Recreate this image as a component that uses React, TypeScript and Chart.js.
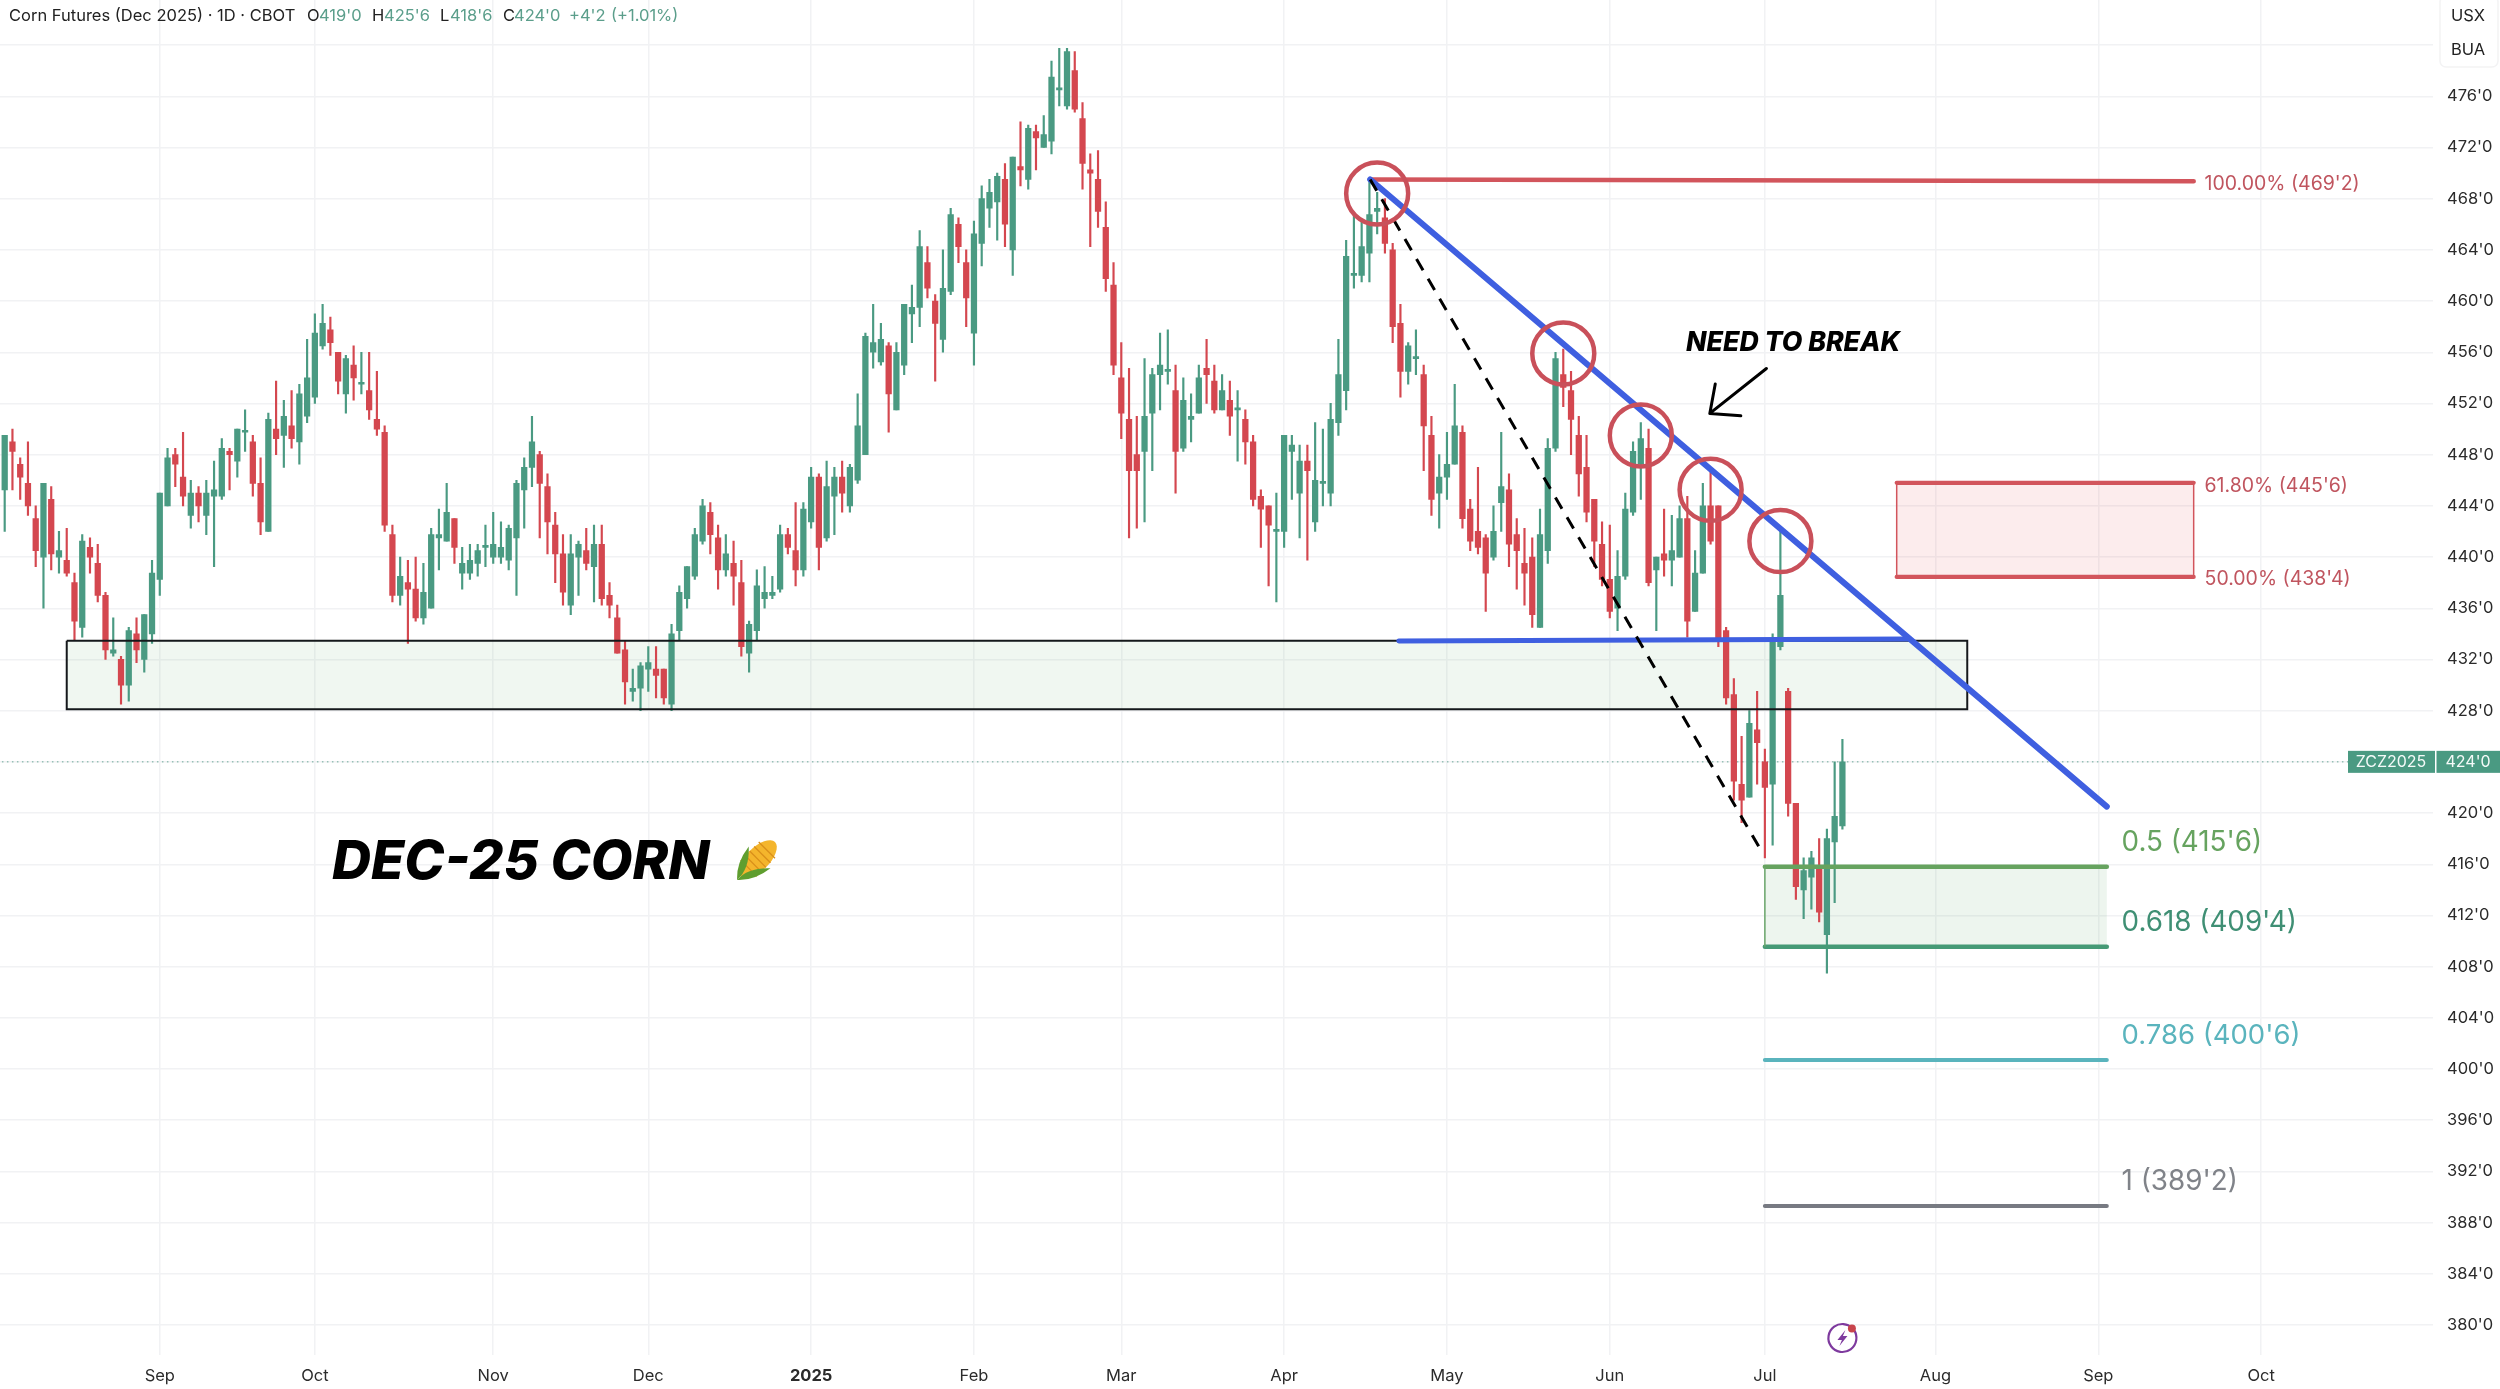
import React, { useEffect, useRef } from "react";
import { Chart, registerables } from "chart.js";

Chart.register(...registerables);

// Daily OHLC, Dec-25 corn, one entry per session, in cents (eighths shown as 0.25 steps)
const opens = [
  445.25,449,447.25,445.75,443,440,444.5,440,439.75,438,434.5,440.75,439.5,437,432.5,432,430,434,432,434,
  438.25,444,448,446.25,443.25,445,443.25,444.75,444.75,448.25,447.5,449.75,449,445.75,442,450,449.5,450.25,449,451,
  452.5,456.5,457.75,456,452.75,455,453.5,453,450.75,449.75,441.75,437,438,437.5,435.25,436,441.5,441.25,443,438.75,
  438.75,439.5,440.75,440,440,439.75,441.5,445.25,447,448,445.5,442.5,440.25,436.25,440,440.5,439.25,441,437,435.25,
  432.75,429.5,429.75,431.25,431.25,431.25,428.5,434.25,436.75,438.5,441.25,443.5,441.5,439,439.5,438,432.5,434.25,436.75,437,
  437.5,441.75,440.5,439,442.75,446.25,441.5,444.75,446.25,444,446,448,456,455.25,456.5,451.5,455,459,459.5,463,
  460,457,460.75,466,463,457.5,464.5,467.25,467.75,469.5,464,470.5,469.5,473.25,472,472.5,476.5,475.25,478,474.25,
  470.25,469.5,465.75,461.25,454,450.75,448,448.25,451.25,454.25,454.5,453,448.5,450.75,451.25,454.75,453.75,451.5,452.25,451.5,
  450.75,449,444.75,444,442,442,448.25,445,447.5,442.75,445.75,445,450.5,453,462,462,463.75,467,466.5,464,
  458.25,454.5,455.5,454.25,449.5,445,446.25,447.25,449.75,443.75,442,441.5,440,444.25,445.25,441.75,439.5,440,434.5,440.5,
  448.5,454.25,453,449.5,447,444.5,441,438.25,436,438.5,443.5,447.25,448.5,439,440.25,439.75,440,443,435.75,438.75,
  444,444,434.25,429.25,422.25,421.25,426.5,424,422.25,433,429.5,420.75,414,415,415.75,410.5,417.75,419,
];
const closes = [
  449.5,448.25,446.25,444,440.5,445.75,440.25,440.5,438.75,435,441.25,440,437,432.75,432.75,430,434.25,432.75,435.5,438.75,
  445,447.75,447.25,444.75,445,444,445,445.25,448.5,448,450,449.75,445.75,442.75,450.75,449.25,451,449.25,452.75,454,
  457.5,458.25,456.75,453.75,455.5,454,453.5,451.5,450,442.5,437,438.5,437.5,435.25,437.25,441.75,441.75,443.5,440.75,439.5,
  439.75,440.5,440.75,441,440.75,442.25,445.75,447,449,445.75,442.75,440.25,437.25,440.25,441,439.5,441,436.75,436.25,432.5,
  430.25,429.75,431.5,431.75,430.75,429,434,437.25,439.25,441.75,444,441.75,439,440.25,438.5,433,434.75,437.75,437.25,437.25,
  441.75,440.75,439,443.75,446.25,440.75,445.5,446.25,445,447,450.25,457.25,456.75,457,452.75,456,459.75,459.5,464.25,461,
  458.25,461,466.75,464.25,460.25,465.25,468,468.5,469.75,466,471.25,470.25,473.5,472.75,473,477.5,476.5,479.5,475,470.75,
  470,467,461.75,455,451.25,446.75,446.75,451,454.25,455,454.5,448.25,452.25,451,454,454.25,451.5,453,451,451.5,
  449,444.5,443.75,442.5,442,449.5,448.75,447.5,446.75,446,445.75,450.75,454.25,463.5,462,464.25,466.75,467.25,464.5,458,
  454.5,456.5,455.5,450.25,444.5,446.25,447.25,450.25,443,441.25,440.75,438.75,442,445.5,441,440.5,438.75,435.5,441.75,448.5,
  455.5,453.25,450.75,446.5,443.5,441.25,438.25,435.75,438.5,443.75,448.25,449.25,438,440,439.75,440.5,443,435,438.75,444,
  441.25,433.5,429,422.5,421,427,425.5,422,433.5,437,420.75,414.25,415.5,416.5,412.25,418,419.75,424,
];
const highs = [
  449.5,450,447.75,449,444,445.75,445.5,442,442.25,438.75,441.75,441.5,441,437.25,435.25,432.25,434.5,435.25,435.5,439.75,
  445,448.5,448.5,449.75,446,445.5,446,447.5,449.25,448.5,450,451.5,449.5,447.75,451.25,453.75,452.25,453,453.5,457,
  459,459.75,458.75,456,455.75,456.5,456,456,454.5,450.25,442.5,440,439.75,440,439.5,442.25,443.75,445.75,443,440.75,
  441,441,442.5,443.5,442.75,442.5,446,447.75,451,448.25,446.5,443.5,441.75,441.75,441.25,442.25,442.5,442.5,438,436.25,
  433.5,431.25,431.75,433,433,431.25,434.75,437.75,439.25,442.25,444.5,444.25,442.5,441.75,441.25,439.75,435,439,439.25,438.5,
  442.5,442.25,444.25,444.25,447,446.5,447.5,447,447.5,447.25,452.75,457.5,459.75,458.25,456.75,456.75,459.75,461.25,465.5,464.25,
  460.5,464,467.25,466.5,464,466.25,469,469.5,470,470.75,471.25,474,473.75,473.75,474.5,478.75,479.75,479.75,479.5,475.5,
  471.5,471.75,467.75,463,456.75,454.75,451,455.5,454.75,457.5,457.75,455,454,452.75,455,457,455,454.25,453.75,453,
  451.5,449.5,445.25,444,445,449.5,449.5,448.75,448.75,450.5,450,452,457,464.75,466.75,466.25,469.5,468.5,468,464.5,
  459.75,456.75,457.75,455,451,448,449.75,453.5,450.25,444.5,447,441.75,444,449.75,446.5,443,442.25,441.5,443.75,449.25,
  456,456.25,454.5,451,449.5,444.5,442.75,442.5,440.5,445,449,450.5,450,440,443.75,443.25,444,444.75,440.5,445.75,
  446.75,444,434.5,430.5,426,428,429.5,425,434,442,429.75,420.75,416.5,417,418,418.75,424,425.75,
];
const lows = [
  442,445.25,444.5,443.25,439.25,436,439,438.75,438.5,433.5,433.75,438.75,436.5,432,432.25,428.5,428.75,431.75,431,433.25,
  437,444,445.5,444,442.25,442.75,441.75,439.25,444.5,445.25,446.25,448.25,444.75,441.75,442,448,447,448.5,447.25,450.5,
  452,456.25,455.75,452.75,451.25,452.25,452.75,450.75,449.5,442,436.5,436.25,433.25,435,434.75,436,439,441.25,439.5,437.5,
  438.25,438.5,439.25,439.5,439.5,439,437,442.25,445.5,441.5,440.25,438,436.25,435.5,437,439,436.5,436.25,435.25,432.5,
  428.5,428.75,428,429.5,429,428.5,428,433.5,436,438.25,441,440.25,437.5,438.5,436.25,432.25,431,433.5,436,436.75,
  437.25,440.25,437.75,438.5,442.25,439,441.25,441.75,443.5,443.5,445.75,448,454.75,455,449.75,451.5,454.25,456.75,458,460.25,
  453.75,456,460.5,463,458,455,462.75,465.75,464.75,464.25,462,469,468.75,470.25,472,471.5,475.25,475,474.75,468.75,
  464.25,465.75,460.75,454.25,449.25,441.5,442.25,442.75,446.75,451.5,453.5,445,448.25,449,451.25,452,451.25,451.5,449.5,447.5,
  447.25,444,440.75,437.75,436.5,440.75,444.5,441.5,439.75,442,444,444,449.5,451.5,461,461.5,461.5,465.25,463.75,456.75,
  452.5,453.5,454.25,446.75,443.25,442.25,444.5,447.25,442.25,440.5,440.25,435.75,439.75,442,439.25,437.5,436.25,434.5,434.5,439.5,
  448.25,451.75,448,444.75,442.75,439.25,437.75,435.25,434.25,438.25,443.25,444.5,437.75,434.25,438.5,437.75,440,433.75,435.75,438.75,
  441,433,428.5,421,419.25,421.25,422.25,416.5,417.5,432.75,419.75,413.25,411.75,412.5,411.5,407.5,413,418.75,
];

const monthTickIndex = [20, 40, 63, 83, 104, 125, 144, 165, 186, 207, 227, 249, 270, 291];
const monthLabels = ["Sep", "Oct", "Nov", "Dec", "2025", "Feb", "Mar", "Apr", "May", "Jun", "Jul", "Aug", "Sep", "Oct"];
const priceTicks = [380,384,388,392,396,400,404,408,412,416,420,424,428,432,436,440,444,448,452,456,460,464,468,472,476,480];

const lastClose = 424;

const trendLine = [[176.1, 469.5], [271.1, 420.5]];
const supportLine = [[179.8, 433.45], [245.4, 433.6]];
const fibDiagonal = [[176.1, 469.5], [226.2, 417.4]];
const topFibLine = [[176.1, 469.5], [282.3, 469.36]];
const arrowPath = [[227.2, 454.73], [219.9, 451.22], [220.6, 453.52], [219.9, 451.22], [223.9, 451.03]];
const touchCircles = [[177, 468.4], [201, 455.9], [211, 449.5], [220, 445.25], [229, 441.25]];
const demandZone = { x0: 8, x1: 253.1, top: 433.47, bottom: 428.1 };
const resistBox = { x0: 244.0, x1: 282.3, top: 445.8, bottom: 438.45 };
const targetBox = { x0: 227, x1: 271.1, top: 415.8, bottom: 409.55 };
const fib786 = [[227, 400.7], [271.1, 400.7]];
const fib1 = [[227, 389.3], [271.1, 389.3]];

const fibLabels = [
  { text: "100.00% (469'2)", i: 283.7, price: 469.12, color: "#c0555f", size: 19.5 },
  { text: "61.80% (445'6)", i: 283.7, price: 445.52, color: "#c0555f", size: 19.5 },
  { text: "50.00% (438'4)", i: 283.7, price: 438.27, color: "#c0555f", size: 19.5 },
  { text: "0.5 (415'6)", i: 273, price: 417.72, color: "#66a35f", size: 27.8 },
  { text: "0.618 (409'4)", i: 273, price: 411.47, color: "#3f8f74", size: 27.8 },
  { text: "0.786 (400'6)", i: 273, price: 402.57, color: "#5ab4bd", size: 27.5 },
  { text: "1 (389'2)", i: 273, price: 391.22, color: "#808389", size: 27.8 },
];

const UP = "#4a9a82";
const DOWN = "#d4474f";
const FONT = "Inter, 'Open Sans', sans-serif";

const pts = (a: number[][]) => a.map(([x, y]) => ({ x, y }));
const line = (a: number[][], color: string, width: number, extra: any = {}) => ({
  type: "line",
  data: pts(a),
  borderColor: color,
  borderWidth: width,
  pointRadius: 0,
  tension: 0,
  fill: false,
  borderCapStyle: "round",
  borderJoinStyle: "round",
  order: 3,
  ...extra,
});

const overlay = {
  id: "overlay",
  beforeDatasetsDraw(chart: any) {
    const { ctx, scales } = chart;
    const { x, y } = scales;
    const rect = (b: any, fill: string) => {
      ctx.fillStyle = fill;
      ctx.fillRect(x.getPixelForValue(b.x0), y.getPixelForValue(b.top), x.getPixelForValue(b.x1) - x.getPixelForValue(b.x0), y.getPixelForValue(b.bottom) - y.getPixelForValue(b.top));
    };
    ctx.save();
    rect(demandZone, "rgba(76,160,90,0.085)");
    rect(resistBox, "rgba(225,70,75,0.1)");
    rect(targetBox, "rgba(76,160,90,0.1)");
    ctx.restore();
  },
  afterDraw(chart: any) {
    const { ctx, scales } = chart;
    const { x, y } = scales;
    ctx.save();
    ctx.textBaseline = "middle";
    ctx.textAlign = "left";

    // Thin side edges of the boxes
    const edge = (i: number, b: any, color: string) => {
      ctx.strokeStyle = color;
      ctx.lineWidth = 1.5;
      ctx.beginPath();
      ctx.moveTo(x.getPixelForValue(i), y.getPixelForValue(b.top));
      ctx.lineTo(x.getPixelForValue(i), y.getPixelForValue(b.bottom));
      ctx.stroke();
    };
    edge(resistBox.x0, resistBox, "#d2555c");
    edge(resistBox.x1, resistBox, "#d2555c");
    edge(targetBox.x0, targetBox, "#6aa56a");

    fibLabels.forEach((l) => {
      ctx.font = `${l.size}px ${FONT}`;
      ctx.fillStyle = l.color;
      ctx.fillText(l.text, x.getPixelForValue(l.i), y.getPixelForValue(l.price));
    });

    // Free-text callouts
    ctx.fillStyle = "#000";
    ctx.font = `italic 800 26.7px ${FONT}`;
    ctx.fillText("NEED TO BREAK", 1686, 343);
    ctx.font = `italic 800 54px ${FONT}`;
    ctx.fillText("DEC-25 CORN", 332, 863);

    // Corn emoji substitute
    ctx.save();
    ctx.translate(756, 861);
    ctx.rotate(Math.PI / 4);
    ctx.scale(1.28, 1.28);
    ctx.fillStyle = "#f4b52c";
    ctx.beginPath();
    ctx.ellipse(0, -2, 9, 19, 0, 0, Math.PI * 2);
    ctx.fill();
    ctx.strokeStyle = "#d98f1a";
    ctx.lineWidth = 1;
    for (let k = -12; k <= 10; k += 5) {
      ctx.beginPath();
      ctx.moveTo(-9, k);
      ctx.lineTo(9, k);
      ctx.stroke();
    }
    ctx.fillStyle = "#5f9e2f";
    ctx.beginPath();
    ctx.moveTo(-12, -4);
    ctx.quadraticCurveTo(-10, 12, 0, 21);
    ctx.quadraticCurveTo(1, 8, -12, -4);
    ctx.fill();
    ctx.beginPath();
    ctx.moveTo(12, -4);
    ctx.quadraticCurveTo(10, 12, 0, 21);
    ctx.quadraticCurveTo(-1, 8, 12, -4);
    ctx.fill();
    ctx.restore();

    // Price tag of the last close
    const py = y.getPixelForValue(lastClose);
    ctx.fillStyle = "#4a9a82";
    ctx.fillRect(2348, py - 11, 87, 22);
    ctx.fillRect(2436.5, py - 11, 63.5, 22);
    ctx.fillStyle = "#f4faf8";
    ctx.font = `16px ${FONT}`;
    ctx.textAlign = "center";
    ctx.fillText("ZCZ2025", 2391, py + 0.5);
    ctx.fillText("424'0", 2468, py + 0.5);

    // Currency / unit box
    ctx.fillStyle = "#ffffff";
    ctx.strokeStyle = "#f3f3f4";
    ctx.lineWidth = 1.5;
    ctx.beginPath();
    ctx.roundRect(2440, -4, 58, 71, 6);
    ctx.fill();
    ctx.stroke();
    ctx.fillStyle = "#222";
    ctx.font = `16.5px ${FONT}`;
    ctx.fillText("USX", 2468, 16);
    ctx.fillText("BUA", 2468, 50);

    // Header legend
    ctx.textAlign = "left";
    ctx.font = `16.5px ${FONT}`;
    const head: [string, number, string][] = [
      ["Corn Futures (Dec 2025) · 1D · CBOT", 9, "#222"],
      ["O", 307, "#222"], ["419'0", 319, "#5b9e8b"],
      ["H", 372, "#222"], ["425'6", 384, "#5b9e8b"],
      ["L", 440, "#222"], ["418'6", 450, "#5b9e8b"],
      ["C", 503, "#222"], ["424'0", 514, "#5b9e8b"],
      ["+4'2", 569, "#5b9e8b"], ["(+1.01%)", 611, "#5b9e8b"],
    ];
    head.forEach(([t, px, c]) => {
      ctx.fillStyle = c;
      ctx.fillText(t, px, 16);
    });

    // Lightning marker beneath the last bar
    const ix = x.getPixelForValue(opens.length - 1);
    const iy = 1338;
    ctx.strokeStyle = "#7e3a9e";
    ctx.lineWidth = 2.2;
    ctx.beginPath();
    ctx.arc(ix, iy, 14, -Math.PI * 0.2, Math.PI * 1.75);
    ctx.stroke();
    ctx.fillStyle = "#7e3a9e";
    ctx.beginPath();
    [[3, -8], [-5, 2], [-0.5, 2], [-3, 8], [5, -2], [0.5, -2]].forEach(([dx, dy], k) => {
      if (k === 0) ctx.moveTo(ix + dx, iy + dy);
      else ctx.lineTo(ix + dx, iy + dy);
    });
    ctx.closePath();
    ctx.fill();
    ctx.fillStyle = "#c8444c";
    ctx.beginPath();
    ctx.arc(ix + 9.5, iy - 9.5, 4, 0, Math.PI * 2);
    ctx.fill();
    ctx.restore();
  },
};

export default function App() {
  const ref = useRef<HTMLCanvasElement>(null);
  useEffect(() => {
    const index = opens.map((_, i) => i);
    const col = index.map((i) => (closes[i] >= opens[i] ? UP : DOWN));
    const chart = new Chart(ref.current as any, {
      type: "bar",
      data: {
        datasets: [
          {
            data: index.map((i) => ({ x: i, y: [lows[i], highs[i]] })),
            backgroundColor: col,
            barThickness: 1.5,
            grouped: false,
            order: 11,
          },
          {
            data: index.map((i) => ({ x: i, y: [opens[i], closes[i]] })),
            backgroundColor: col,
            barThickness: 5.6,
            minBarLength: 2,
            grouped: false,
            order: 10,
          },
          line([[-1, lastClose], [314, lastClose]], "#6aa798", 1, { borderDash: [1.5, 3.5], order: 12, borderCapStyle: "butt" }),
          line([[demandZone.x0, demandZone.top], [demandZone.x1, demandZone.top], [demandZone.x1, demandZone.bottom], [demandZone.x0, demandZone.bottom], [demandZone.x0, demandZone.top]], "#15181b", 2, { order: 9, borderCapStyle: "butt", borderJoinStyle: "miter" }),
          line([[resistBox.x0, resistBox.top], [resistBox.x1, resistBox.top]], "#d2555c", 4.2),
          line([[resistBox.x0, resistBox.bottom], [resistBox.x1, resistBox.bottom]], "#d2555c", 4.2),
          line([[targetBox.x0, targetBox.top], [targetBox.x1, targetBox.top]], "#66a35f", 4.5),
          line([[targetBox.x0, targetBox.bottom], [targetBox.x1, targetBox.bottom]], "#469a76", 4.5),
          line(fib786, "#5ab4bd", 4),
          line(fib1, "#777a82", 4),
          line(topFibLine, "#d2555c", 4.6),
          line(fibDiagonal, "#000000", 3, { borderDash: [13, 10], borderCapStyle: "butt", order: 2 }),
          line(supportLine, "#3f5fe0", 5, { order: 2 }),
          line(trendLine, "#3f5fe0", 6, { order: 2 }),
          line(arrowPath, "#000000", 3, { order: 1 }),
          {
            type: "scatter",
            data: pts(touchCircles),
            showLine: false,
            pointRadius: 31,
            pointHoverRadius: 31,
            pointBorderWidth: 4.5,
            pointBackgroundColor: "rgba(0,0,0,0)",
            pointBorderColor: "#c9505a",
            clip: false,
            order: 0,
          },
        ] as any,
      },
      options: {
        responsive: false,
        animation: false,
        devicePixelRatio: 1,
        layout: { padding: 0, autoPadding: false },
        events: [],
        plugins: { legend: { display: false }, tooltip: { enabled: false }, title: { display: false } },
        scales: {
          x: {
            type: "linear",
            offset: false,
            min: -0.606,
            max: 313.1,
            grid: { color: "#f1f2f4", lineWidth: 1.5, drawTicks: false, offset: false },
            border: { display: false },
            afterFit: (s: any) => {
              s.height = 34;
              s.paddingLeft = 0;
              s.paddingRight = 0;
            },
            afterBuildTicks: (s: any) => { s.ticks = monthTickIndex.map((value) => ({ value })); },
            ticks: {
              autoSkip: false,
              maxRotation: 0,
              padding: 11.5,
              color: "#2b2b2b",
              font: (c: any) => ({ family: FONT, size: 16.5, weight: c.index === 4 ? "bold" : "normal" }),
              callback: (_v: any, i: number) => monthLabels[i],
            },
          },
          y: {
            type: "linear",
            position: "right",
            min: 377.66,
            max: 483.52,
            grid: { color: "#f1f2f4", lineWidth: 1.5, drawTicks: false },
            border: { display: false },
            afterFit: (s: any) => {
              s.width = 67.5;
              s.paddingTop = 0;
              s.paddingBottom = 0;
            },
            afterBuildTicks: (s: any) => { s.ticks = priceTicks.map((value) => ({ value })); },
            ticks: {
              autoSkip: false,
              padding: 14.5,
              color: "#2b2b2b",
              font: { family: FONT, size: 16.5 },
              callback: (v: any) => (v === 480 ? "" : `${v}'0`),
            },
          },
        },
      } as any,
      plugins: [overlay],
    } as any);
    return () => chart.destroy();
  }, []);
  return <canvas ref={ref} width={2500} height={1389} style={{ position: "fixed", left: 0, top: 0, display: "block" }} />;
}
